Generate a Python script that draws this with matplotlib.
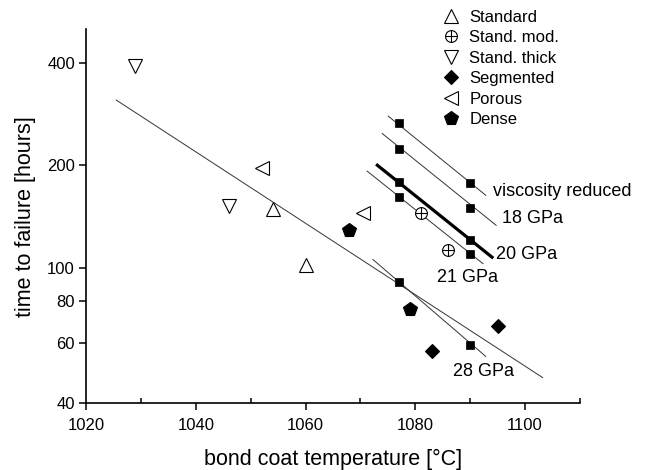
import matplotlib
matplotlib.use("Agg")
import matplotlib.pyplot as plt
from matplotlib.ticker import FixedLocator, NullFormatter, NullLocator

plt.rcParams['font.family'] = ['Liberation Sans', 'DejaVu Sans']

# ---- data ----
standard_x = [1054, 1060]
standard_y = [149, 102]
stand_mod_x = [1081, 1086]
stand_mod_y = [145, 113]
thick_x = [1029, 1046]
thick_y = [392, 152]
segmented_x = [1083, 1095]
segmented_y = [57, 67.4]
porous_x = [1052, 1070.5]
porous_y = [196, 145]
dense_x = [1068, 1079]
dense_y = [129, 75.4]

# model (square) points at two temperatures
model_x = [1077, 1090]
model_names = ["viscosity reduced", "18 GPa", "20 GPa", "21 GPa", "28 GPa"]
model_y = {
    "viscosity reduced": [265.8, 177.8],
    "18 GPa": [223.9, 150.1],
    "20 GPa": [178.3, 120.6],
    "21 GPa": [161.8, 109.7],
    "28 GPa": [91.0, 59.2],
}
# fit lines through the model points (x start/end, y start/end)
model_line_x = {
    "viscosity reduced": [1075.0, 1092.9],
    "18 GPa": [1073.9, 1094.8],
    "20 GPa": [1072.85, 1094.2],
    "21 GPa": [1071.15, 1092.4],
    "28 GPa": [1072.2, 1092.9],
}
model_line_y = {
    "viscosity reduced": [279.4, 162.9],
    "18 GPa": [248.4, 132.9],
    "20 GPa": [201.4, 106.6],
    "21 GPa": [192.6, 102.5],
    "28 GPa": [105.9, 54.7],
}
label_x = {"viscosity reduced": 1094.2, "18 GPa": 1095.75, "20 GPa": 1094.7,
           "21 GPa": 1084.0, "28 GPa": 1086.9}
label_y = {"viscosity reduced": 167.3, "18 GPa": 139.7, "20 GPa": 109,
           "21 GPa": 93.7, "28 GPa": 49.4}

# overall regression line of experiments
fit_x = [1025.5, 1103.2]
fit_y = [311, 47.5]

xticks = [1020, 1040, 1060, 1080, 1100]
xminor = [1030, 1050, 1070, 1090, 1110]
yticks = [40, 60, 80, 100, 200, 400]

# ---- figure ----
fig = plt.figure(figsize=(6.46, 4.70), dpi=100)
ax = fig.add_axes([86/646, 1-403/470, (580-86)/646, (403-29.3)/470])
ax.set_yscale('log')
ax.set_xlim(1020, 1110)
ax.set_ylim(40, 502)

line_col = '#333333'
ax.plot(fit_x, fit_y, color=line_col, lw=0.7)
for name in model_names:
    lw = 2.3 if name == "20 GPa" else 0.7
    col = 'black' if name == "20 GPa" else line_col
    ax.plot(model_line_x[name], model_line_y[name], color=col, lw=lw, solid_capstyle='butt')
    ax.plot(model_x, model_y[name], 's', color='black', ms=6, mew=0.5)
    ax.text(label_x[name], label_y[name], name, fontsize=13, ha='left', va='center')

mk = dict(linestyle='none', mec='black', mew=0.8)
h_std, = ax.plot(standard_x, standard_y, '^', mfc='white', ms=10, **mk)
h_mod1, = ax.plot(stand_mod_x, stand_mod_y, 'o', mfc='white', ms=8.5, **mk)
h_mod2, = ax.plot(stand_mod_x, stand_mod_y, '+', ms=8.5, color='black', **mk)
h_thick, = ax.plot(thick_x, thick_y, 'v', mfc='white', ms=10, **mk)
h_seg, = ax.plot(segmented_x, segmented_y, 'D', mfc='black', ms=7.5, **mk)
h_por, = ax.plot(porous_x, porous_y, '<', mfc='white', ms=10, **mk)
h_den, = ax.plot(dense_x, dense_y, 'p', mfc='black', ms=10, **mk)

leg = ax.legend([h_std, (h_mod1, h_mod2), h_thick, h_seg, h_por, h_den],
                ["Standard", "Stand. mod.", "Stand. thick", "Segmented", "Porous", "Dense"],
                loc='upper left', bbox_to_anchor=(0.705, 1.075), frameon=False,
                fontsize=12, handlelength=1.0, handletextpad=0.6, labelspacing=0.33,
                borderpad=0.0)

# axes styling
for s in ['top', 'right']:
    ax.spines[s].set_visible(False)
for s in ['left', 'bottom']:
    ax.spines[s].set_linewidth(1.2)
ax.xaxis.set_major_locator(FixedLocator(xticks))
ax.xaxis.set_minor_locator(FixedLocator(xminor))
ax.xaxis.set_minor_formatter(NullFormatter())
ax.set_xticklabels([str(t) for t in xticks])
ax.yaxis.set_major_locator(FixedLocator(yticks))
ax.yaxis.set_minor_locator(NullLocator())
ax.set_yticklabels([str(t) for t in yticks])
ax.tick_params(axis='both', which='major', direction='out', length=5, width=1.1,
               labelsize=12)
ax.tick_params(axis='x', which='major', pad=6)
ax.tick_params(axis='y', which='major', pad=3)
ax.tick_params(axis='x', which='minor', direction='in', length=3.5, width=1.1)

ax.set_xlabel("bond coat temperature [°C]", fontsize=15.5, labelpad=11)
ax.set_ylabel("time to failure [hours]", fontsize=15.5, labelpad=8)

fig.savefig("out.png", dpi=100)
